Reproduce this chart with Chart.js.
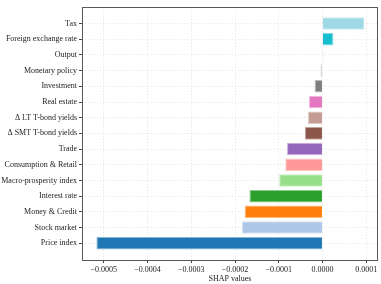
<!DOCTYPE html>
<html>
<head>
<meta charset="utf-8">
<script src="https://cdn.jsdelivr.net/npm/chart.js@4"></script>
<style>
  html, body { margin: 0; padding: 0; background: #fff; }
  #wrap { width: 381px; height: 284px; }
</style>
</head>
<body>
<div id="wrap"><canvas id="canvas"></canvas></div>
<script>
// categories, bottom to top (Price index sits at the bottom)
var labels = ["Price index", "Stock market", "Money & Credit", "Interest rate",
  "Macro-prosperity index", "Consumption & Retail", "Trade", "\u0394 SMT T-bond yields",
  "\u0394 LT T-bond yields", "Real estate", "Investment", "Monetary policy", "Output",
  "Foreign exchange rate", "Tax"];

// mean SHAP values
var shapValues = [-0.000517, -0.000184, -0.000178, -0.000167, -0.000099, -0.000085,
  -0.000081, -0.000040, -0.000033, -0.000031, -0.000018, -0.0000045, 0.000002,
  0.000025, 0.000096];

// tab20 colours, one per bar
var barColors = ["#1f77b4", "#aec7e8", "#ff7f0e", "#2ca02c", "#98df8a", "#ff9896",
  "#9467bd", "#8c564b", "#c49c94", "#e377c2", "#7f7f7f", "#c7c7c7", "#bcbd22",
  "#17becf", "#9edae5"];

var xTicks = [-0.0005, -0.0004, -0.0003, -0.0002, -0.0001, 0, 0.0001];

var points = shapValues.map(function (v, i) { return { x: v, y: i }; });

// box round the plot, like matplotlib spines
var boxPlugin = {
  id: 'box',
  afterDraw: function (chart) {
    var a = chart.chartArea, c = chart.ctx;
    c.save();
    c.strokeStyle = '#595959';
    c.lineWidth = 1;
    c.strokeRect(Math.round(a.left) + 0.5, Math.round(a.top) + 0.5,
      Math.round(a.right - a.left) - 1, Math.round(a.bottom - a.top));
    c.restore();
  }
};

var font = { family: "'Liberation Serif', 'DejaVu Serif', serif", size: 8 };

var gridOpts = {
  offset: false,
  color: '#e3e3e3',
  tickColor: '#444',
  tickLength: 3,
  tickBorderDash: []
};

new Chart(document.getElementById('canvas'), {
  type: 'bar',
  data: {
    datasets: [{
      data: points,
      backgroundColor: barColors,
      // lighter edge, as in the picture
      borderColor: barColors.map(function (c) { return c + '88'; }),
      borderWidth: 1,
      categoryPercentage: 1,
      barPercentage: 0.8
    }]
  },
  plugins: [boxPlugin],
  options: {
    indexAxis: 'y',
    responsive: true,
    maintainAspectRatio: false,
    animation: false,
    layout: { padding: { top: 3, right: 3, left: 0, bottom: 0 } },
    plugins: { legend: { display: false }, tooltip: { enabled: false } },
    scales: {
      y: {
        type: 'linear',
        offset: false,
        min: -1.07,
        max: 15.07,
        afterBuildTicks: function (scale) {
          scale.ticks = labels.map(function (l, i) { return { value: i }; });
        },
        afterFit: function (scale) { scale.width = 82; },
        ticks: {
          font: font,
          color: '#222',
          padding: 2,
          callback: function (v) { return labels[v]; }
        },
        grid: gridOpts,
        border: { display: false, dash: [1, 2] }
      },
      x: {
        offset: false,
        min: -0.00055,
        max: 0.000127,
        afterBuildTicks: function (scale) {
          scale.ticks = xTicks.map(function (v) { return { value: v }; });
        },
        afterFit: function (scale) { scale.height = 24; },
        ticks: {
          font: font,
          color: '#222',
          padding: 2,
          maxRotation: 0,
          callback: function (v) {
            var s = Math.abs(v).toFixed(4);
            return v < -1e-12 ? '\u2212' + s : s;
          }
        },
        grid: gridOpts,
        border: { display: false, dash: [1, 2] },
        title: { display: true, text: 'SHAP values', font: font, color: '#222', padding: { top: 0, bottom: 0 } }
      }
    }
  }
});
</script>
</body>
</html>
